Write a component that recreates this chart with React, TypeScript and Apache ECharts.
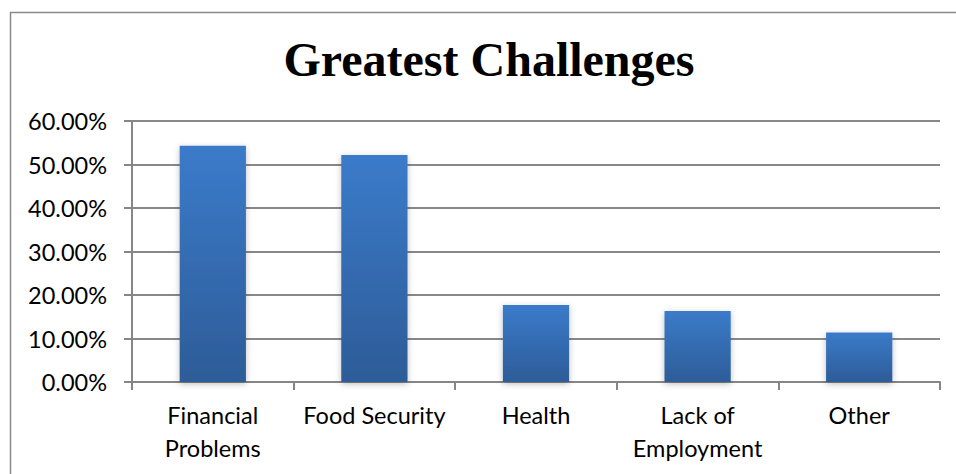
import React, { useEffect, useRef } from "react";
import * as echarts from "echarts";

const categories = ["Financial\nProblems", "Food Security", "Health", "Lack of\nEmployment", "Other"];
const values = [0.543, 0.522, 0.177, 0.163, 0.114];
const yTicks = [0, 0.1, 0.2, 0.3, 0.4, 0.5, 0.6];
const titleText = "Greatest Challenges";

export default function App() {
  const ref = useRef<HTMLDivElement>(null);
  useEffect(() => {
    if (!ref.current) return;
    const chart = echarts.init(ref.current, null, { renderer: "svg" });
    chart.setOption({
      animation: false,
      backgroundColor: "#ffffff",
      graphic: [
        {
          type: "rect",
          shape: { x: 10.5, y: 12.5, width: 1000, height: 1000 },
          style: { fill: "none", stroke: "#8a8a8a", lineWidth: 1.5 },
          silent: true,
        },
        {
          type: "text",
          x: 489,
          y: 59,
          style: {
            text: titleText,
            font: "bold 48px 'Liberation Serif', 'Times New Roman', serif",
            fill: "#000000",
            align: "center",
            verticalAlign: "middle",
          },
        },
      ],
      grid: { left: 132, right: 16, top: 121, bottom: 92, containLabel: false },
      xAxis: {
        type: "category",
        data: categories,
        axisLine: { show: true, lineStyle: { color: "#868686", width: 2 } },
        axisTick: { show: true, length: 8, alignWithLabel: false, lineStyle: { color: "#868686", width: 2 } },
        axisLabel: {
          interval: 0,
          margin: 16,
          fontFamily: "Lato, 'Open Sans', sans-serif",
          fontSize: 23.5,
          color: "#000000",
          lineHeight: 33,
        },
      },
      yAxis: {
        type: "value",
        min: 0,
        max: 0.6,
        interval: 0.1,
        axisLine: { show: true, lineStyle: { color: "#868686", width: 2 } },
        axisTick: { show: true, length: 8, lineStyle: { color: "#868686", width: 2 } },
        splitLine: { show: true, lineStyle: { color: "#888888", width: 2 } },
        axisLabel: {
          margin: 25,
          fontFamily: "Lato, 'Open Sans', sans-serif",
          fontSize: 23.5,
          color: "#000000",
          formatter: (v: number) => {
            const t = yTicks.find((x) => Math.abs(x - v) < 1e-9);
            return ((t ?? v) * 100).toFixed(2) + "%";
          },
        },
      },
      series: [
        {
          type: "bar",
          data: values,
          barWidth: "41%",
          itemStyle: {
            color: new echarts.graphic.LinearGradient(0, 0, 0, 1, [
              { offset: 0, color: "#3b7bca" },
              { offset: 1, color: "#2d5c98" },
            ]),
            shadowColor: "rgba(0,0,0,0.25)",
            shadowBlur: 6,
            shadowOffsetY: 2,
          },
        },
      ],
    });
    return () => chart.dispose();
  }, []);
  return (
    <div
      ref={ref}
      style={{ position: "absolute", left: 0, top: 0, width: 956, height: 474 }}
    />
  );
}
